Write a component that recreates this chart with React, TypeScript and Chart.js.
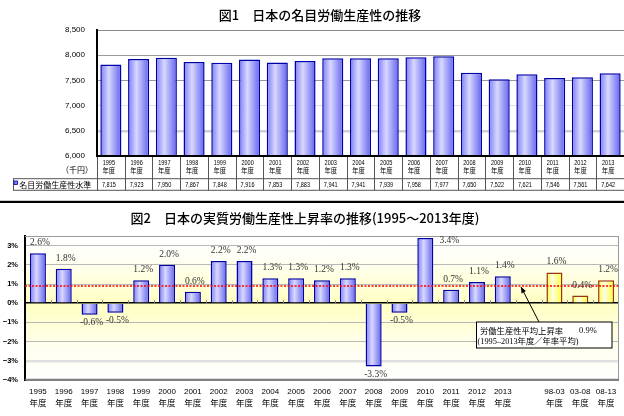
import React, { useEffect, useRef } from "react";
import { Chart, registerables } from "chart.js";
Chart.register(...registerables);

// ---------- data ----------
const fiscalYears = ["1995", "1996", "1997", "1998", "1999", "2000", "2001", "2002", "2003", "2004", "2005", "2006", "2007", "2008", "2009", "2010", "2011", "2012", "2013"];
const nominalProductivity = [7815, 7923, 7950, 7867, 7848, 7916, 7853, 7883, 7941, 7941, 7939, 7958, 7977, 7650, 7522, 7621, 7546, 7561, 7642];
const nominalTicks = [6000, 6500, 7000, 7500, 8000, 8500];
const realGrowthAnnual = [2.6, 1.8, -0.6, -0.5, 1.2, 2.0, 0.6, 2.2, 2.2, 1.3, 1.3, 1.2, 1.3, -3.3, -0.5, 3.4, 0.7, 1.1, 1.4];
const periodLabels = ["98-03", "03-08", "08-13"];
const realGrowthPeriods = [1.6, 0.4, 1.2];
const growthTicks = [-4, -3, -2, -1, 0, 1, 2, 3];
const averageGrowth = 0.9;

const title1 = "図1　日本の名目労働生産性の推移";
const title2 = "図2　日本の実質労働生産性上昇率の推移(1995〜2013年度)";
const tableLabel = "名目労働生産性水準";
const unitLabel = "（千円）";
const yearSuffix = "年度";
const noteLine1 = "労働生産性平均上昇率";
const noteLine2 = "(1995–2013年度／年率平均)";

// ---------- styles ----------
const SANS = '"Liberation Sans", Arial, sans-serif';
const CJK = '"Noto Sans CJK JP", sans-serif';
const SERIF = '"Liberation Serif", "Noto Sans CJK JP", serif';
const BLUE = ["#7a7af8", "#d8d8ff", "#6262ee"];
const BLUE_BORDER = "#0000a8";
const YELLOW = ["#ffff33", "#ffffe8", "#ffff2a"];
const YELLOW_BORDER = "#993311";

function hGrad(c: any, colors: string[]) {
  const chart = c.chart;
  const x = chart.scales && chart.scales.x;
  if (c.type !== "data" || !x || !chart.chartArea) return colors[1];
  const n = chart.data.labels.length;
  const bw = (x.width / n) * c.dataset.barPercentage;
  const cx = x.getPixelForValue(c.dataIndex);
  const g = chart.ctx.createLinearGradient(cx - bw / 2, 0, cx + bw / 2, 0);
  g.addColorStop(0, colors[0]);
  g.addColorStop(0.4, colors[1]);
  g.addColorStop(1, colors[2]);
  return g;
}

function txt(ctx: CanvasRenderingContext2D, s: string, x: number, y: number, font: string, color = "#000", align: CanvasTextAlign = "center", sx = 1) {
  ctx.save();
  ctx.font = font;
  ctx.fillStyle = color;
  ctx.textAlign = align;
  ctx.textBaseline = "middle";
  ctx.translate(x, y);
  ctx.scale(sx, 1);
  ctx.fillText(s, 0, 0);
  ctx.restore();
}

function line(ctx: CanvasRenderingContext2D, x1: number, y1: number, x2: number, y2: number, color: string, w = 1, dash: number[] = []) {
  ctx.save();
  ctx.strokeStyle = color;
  ctx.lineWidth = w;
  ctx.setLineDash(dash);
  ctx.beginPath();
  ctx.moveTo(x1, y1);
  ctx.lineTo(x2, y2);
  ctx.stroke();
  ctx.restore();
}

export default function App() {
  const ref1 = useRef<HTMLCanvasElement>(null);
  const ref2 = useRef<HTMLCanvasElement>(null);

  useEffect(() => {
    // ---------- chart 1 ----------
    const plugin1 = {
      id: "fig1",
      afterDraw(chart: any) {
        const ctx: CanvasRenderingContext2D = chart.ctx;
        const a = chart.chartArea;
        const x = chart.scales.x;
        const n = fiscalYears.length;
        const cw = (a.right - a.left) / n;
        txt(ctx, title1, 320, 15, `500 13px ${CJK}`, "#000");
        // bottom axis
        ctx.fillStyle = "#000";
        ctx.fillRect(a.left - 1, a.bottom - 1, a.right - a.left + 1, 2);
        // table
        const r2top = a.bottom + 22.7;
        const r2bot = a.bottom + 34.3;
        for (let i = 0; i <= n; i++) {
          const lx = Math.round(a.left + i * cw) + 0.5;
          line(ctx, lx, a.bottom + 1, lx, r2bot, "#555");
        }
        line(ctx, 13, r2top, a.right, r2top, "#555");
        line(ctx, 13, r2bot, a.right, r2bot, "#555");
        line(ctx, 13.5, r2top, 13.5, r2bot, "#555");
        fiscalYears.forEach((yr, i) => {
          const cx = x.getPixelForValue(i) - 2;
          txt(ctx, yr, cx, a.bottom + 6.7, `7.5px ${SANS}`, "#000", "center", 0.74);
          txt(ctx, yearSuffix, cx, a.bottom + 14.7, `6.3px ${CJK}`, "#000");
          txt(ctx, nominalProductivity[i].toLocaleString("en-US"), cx, (r2top + r2bot) / 2, `7.5px ${SANS}`, "#000", "center", 0.74);
        });
        txt(ctx, unitLabel, 93, a.bottom + 14, `8px ${CJK}`, "#000", "right");
        // legend key
        ctx.fillStyle = "#8080ff";
        ctx.fillRect(14, 181, 3.5, 3.5);
        ctx.strokeStyle = BLUE_BORDER;
        ctx.lineWidth = 0.8;
        ctx.strokeRect(14, 181, 3.5, 3.5);
        txt(ctx, tableLabel, 19.3, (r2top + r2bot) / 2 + 0.5, `8px ${CJK}`, "#000", "left");
      },
    };

    const gridColor1: Record<number, string> = { 6000: "#000", 6500: "#cfcfcf", 7000: "#e0e0e0", 7500: "#9a9a9a", 8000: "#9a9a9a", 8500: "#8a8a8a" };

    const c1 = new Chart(ref1.current!, {
      type: "bar",
      data: {
        labels: fiscalYears,
        datasets: [
          {
            data: nominalProductivity,
            backgroundColor: (c: any) => hGrad(c, BLUE),
            borderColor: BLUE_BORDER,
            borderWidth: 1.5,
            barPercentage: 0.76,
            categoryPercentage: 1,
          } as any,
        ],
      },
      options: {
        responsive: false,
        animation: false,
        layout: { padding: { top: 30, bottom: 44, left: 0, right: 0 } },
        plugins: { legend: { display: false }, tooltip: { enabled: false }, title: { display: false } },
        scales: {
          x: { display: false },
          y: {
            min: 6000,
            max: 8500,
            afterBuildTicks: (s: any) => {
              s.ticks = nominalTicks.map((v) => ({ value: v }));
            },
            afterFit: (s: any) => {
              s.width = 97;
            },
            ticks: {
              callback: (v: any) => Number(v).toLocaleString("en-US"),
              font: { family: SANS, size: 8 },
              color: "#000",
              padding: 12,
            },
            grid: {
              drawTicks: false,
              color: (c: any) => gridColor1[c.tick.value] || "#bbb",
              lineWidth: (c: any) => (c.tick.value === 6500 ? 2.5 : 1),
            },
            border: { color: "#000", width: 2 },
          },
        },
      },
      plugins: [plugin1],
    } as any);

    // ---------- chart 2 ----------
    const labels2 = [...fiscalYears, "", ...periodLabels];
    const values2: (number | null)[] = [...realGrowthAnnual, null, ...realGrowthPeriods];
    const firstPeriod = fiscalYears.length + 1;

    const plugin2 = {
      id: "fig2",
      beforeDraw(chart: any) {
        const ctx: CanvasRenderingContext2D = chart.ctx;
        const a = chart.chartArea;
        const g = ctx.createLinearGradient(0, a.top, 0, a.bottom);
        g.addColorStop(0, "#ffffff");
        g.addColorStop(0.15, "#fffff6");
        g.addColorStop(0.47, "#ffffc2");
        g.addColorStop(0.78, "#fffff0");
        g.addColorStop(1, "#ffffff");
        ctx.fillStyle = g;
        ctx.fillRect(a.left, a.top, a.right - a.left, a.bottom - a.top);
      },
      afterDraw(chart: any) {
        const ctx: CanvasRenderingContext2D = chart.ctx;
        const a = chart.chartArea;
        const x = chart.scales.x;
        const y = chart.scales.y;
        const n = labels2.length;
        const cw = (a.right - a.left) / n;
        // divider and title
        ctx.fillStyle = "#000";
        ctx.fillRect(0, 0.8, chart.width, 2.2);
        txt(ctx, title2, 305, 18, `500 13px ${CJK}`, "#000");
        // frame
        line(ctx, a.left, a.top + 0.5, a.right, a.top + 0.5, "#9a9a9a", 1);
        line(ctx, a.right - 0.5, a.top, a.right - 0.5, a.bottom, "#9a9a9a", 1);
        line(ctx, a.left, a.bottom - 0.5, a.right, a.bottom - 0.5, "#808080", 1.5);
        // zero-axis tick marks
        const y0 = y.getPixelForValue(0);
        for (let i = 1; i < n; i++) {
          const tx = Math.round(a.left + i * cw) + 0.5;
          line(ctx, tx, y0 - 3, tx, y0, "#888", 1);
        }
        // average line
        const ya = y.getPixelForValue(averageGrowth);
        line(ctx, a.left, ya, a.right, ya, "#ff0000", 1.5, [2, 1.5]);
        // value labels
        const meta = chart.getDatasetMeta(0);
        meta.data.forEach((bar: any, i: number) => {
          const v = values2[i];
          if (v == null) return;
          let lx = bar.x + 2;
          let ly: number;
          if (v >= 0) {
            ly = bar.y - 10.5;
            if (ly < a.top + 3) {
              lx = bar.x + bar.width / 2 + 16;
              ly = a.top + 4;
            }
          } else {
            ly = bar.y + 8;
          }
          txt(ctx, v.toFixed(1) + "%", lx, ly, `9.5px ${SERIF}`, "#333");
        });
        // x labels
        labels2.forEach((lb, i) => {
          if (!lb) return;
          const cx = x.getPixelForValue(i);
          txt(ctx, lb, cx, a.bottom + 11.7, `8px ${SANS}`, "#000");
          txt(ctx, yearSuffix, cx, a.bottom + 23, `8.5px ${CJK}`, "#000");
        });
        // annotation box
        const bx = 476.5, by = 122, bw = 135.5, bh = 26;
        ctx.fillStyle = "#fff";
        ctx.fillRect(bx, by, bw, bh);
        ctx.strokeStyle = "#000";
        ctx.lineWidth = 1;
        ctx.strokeRect(bx, by, bw, bh);
        txt(ctx, noteLine1, 480, by + 8.5, `8.3px ${CJK}`, "#000", "left");
        txt(ctx, averageGrowth.toFixed(1) + "%", 579, by + 8.5, `8.5px ${SERIF}`, "#000", "left");
        txt(ctx, noteLine2, 477.5, by + 19.5, `8.3px ${SERIF}`, "#000", "left");
        // arrow
        const tx0 = 539, ty0 = by, hx = 521, hy = ya + 1;
        line(ctx, tx0, ty0, hx, hy, "#000", 1);
        const ang = Math.atan2(hy - ty0, hx - tx0);
        ctx.save();
        ctx.fillStyle = "#000";
        ctx.beginPath();
        ctx.moveTo(hx, hy);
        ctx.lineTo(hx - 6 * Math.cos(ang) + 2.5 * Math.sin(ang), hy - 6 * Math.sin(ang) - 2.5 * Math.cos(ang));
        ctx.lineTo(hx - 6 * Math.cos(ang) - 2.5 * Math.sin(ang), hy - 6 * Math.sin(ang) + 2.5 * Math.cos(ang));
        ctx.closePath();
        ctx.fill();
        ctx.restore();
      },
    };

    const c2 = new Chart(ref2.current!, {
      type: "bar",
      data: {
        labels: labels2,
        datasets: [
          {
            data: values2,
            backgroundColor: (c: any) => hGrad(c, c.dataIndex >= firstPeriod ? YELLOW : BLUE),
            borderColor: (c: any) => (c.dataIndex >= firstPeriod ? YELLOW_BORDER : BLUE_BORDER),
            borderWidth: 1.5,
            barPercentage: 0.62,
            categoryPercentage: 1,
          } as any,
        ],
      },
      options: {
        responsive: false,
        animation: false,
        layout: { padding: { top: 36, bottom: 36, left: 0, right: 5 } },
        plugins: { legend: { display: false }, tooltip: { enabled: false }, title: { display: false } },
        scales: {
          x: { display: false },
          y: {
            min: -4,
            max: 3.5,
            afterBuildTicks: (s: any) => {
              s.ticks = growthTicks.map((v) => ({ value: v }));
            },
            afterFit: (s: any) => {
              s.width = 25;
            },
            ticks: {
              callback: (v: any) => (v < 0 ? "−" + Math.abs(v) : String(v)) + "%",
              font: { family: SANS, size: 7.5, weight: "bold" },
              color: "#000",
              padding: 7,
            },
            grid: {
              drawTicks: false,
              color: (c: any) => (c.tick.value === 0 ? "#000" : c.tick.value === -3 ? "#e0e0e0" : c.tick.value === -4 ? "#808080" : "#b8b8b8"),
              lineWidth: (c: any) => (c.tick.value === 0 ? 1.5 : c.tick.value === -3 ? 2.5 : 1),
            },
            border: { color: "#000", width: 2 },
          },
        },
      },
      plugins: [plugin2],
    } as any);

    return () => {
      c1.destroy();
      c2.destroy();
    };
  }, []);

  return (
    <div style={{ position: "fixed", left: 0, top: 0, width: 624, height: 416, background: "#fff", overflow: "hidden" }}>
      <canvas ref={ref1} width={624} height={200} style={{ position: "absolute", left: 0, top: 0, display: "block" }} />
      <canvas ref={ref2} width={624} height={216} style={{ position: "absolute", left: 0, top: 200, display: "block" }} />
    </div>
  );
}
